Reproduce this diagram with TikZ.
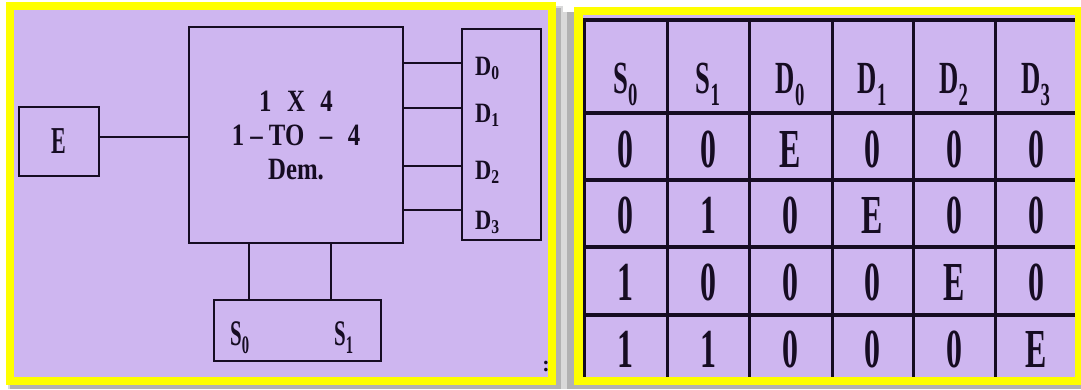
\documentclass[tikz,border=0pt]{standalone}
\usepackage{fontspec}
\setmainfont{Liberation Serif}
\newfontfamily\narrowfont[Ligatures=TeX, FakeStretch=0.58]{Liberation Serif}
\newfontfamily\boxfont[Ligatures=TeX, FakeStretch=0.8]{Liberation Serif}
\definecolor{lav}{RGB}{206,182,240}
\definecolor{ink}{RGB}{22,12,34}
\definecolor{frame}{RGB}{255,255,0}

\begin{document}
\begin{tikzpicture}[x=1pt, y=-1pt,
    blk/.style={draw=ink, line width=2.8pt, fill=lav, inner sep=0pt, text=ink},
    wire/.style={draw=ink, line width=2.8pt},
    grid/.style={draw=ink, line width=3pt},
    lbl/.style={text=ink, inner sep=0pt, anchor=base west, font=\boxfont\bfseries\fontsize{28}{28}\selectfont},
    cell/.style={text=ink, inner sep=0pt, anchor=base, font=\narrowfont\bfseries\fontsize{55}{55}\selectfont}]
  \useasboundingbox (0,0) rectangle (1081,389);
  \fill[white] (0,0) rectangle (1081,389);

  % Cornici
  \fill[black!15] (8,6) rectangle (563,389);
  \fill[black!30] (10,8) rectangle (561,389);
  \fill[frame] (6,2) rectangle (556,385);
  \fill[lav] (14,10) rectangle (548,377);
  \fill[black!15] (562,12) rectangle (1081,389);
  \fill[black!30] (567,12) rectangle (1081,389);
  \fill[frame] (574,7) rectangle (1081,385);
  \fill[lav] (583,15) rectangle (1075,377);

  % Demultiplexer
  \node[blk, minimum width=80pt, minimum height=69pt,
        font=\narrowfont\bfseries\fontsize{38}{38}\selectfont] (ebox) at (59,141.5) {E};
  \node[blk, minimum width=214pt, minimum height=216pt, align=center,
        font=\boxfont\bfseries\fontsize{31}{34}\selectfont] (demux) at (296,135)
        {1\enspace X\enspace 4\\ 1 -- TO\enspace--\enspace 4\\ Dem.};
  \node[blk, minimum width=79pt, minimum height=211pt] (outbox) at (501.5,134.5) {};
  \node[blk, minimum width=167pt, minimum height=61pt] (selbox) at (297.5,330.5) {};

  \draw[wire] (ebox.east |- 0,137) -- (demux.west |- 0,137);

  % Uscite
  \foreach \i/\b in {0/75,1/122,2/179,3/229}
    \node[lbl] (d\i) at (475,\b) {D\textsubscript{\i}};
  \foreach \i/\y in {0/63,1/108,2/166,3/210}
    \draw[wire] (demux.east |- 0,\y) -- (outbox.west |- 0,\y);

  % Selettori
  \node[lbl, font=\narrowfont\bfseries\fontsize{36}{36}\selectfont] (s0) at (230,345) {S\textsubscript{0}};
  \node[lbl, font=\narrowfont\bfseries\fontsize{36}{36}\selectfont] (s1) at (334,345) {S\textsubscript{1}};
  \draw[wire] (249,0 |- demux.south) -- (249,0 |- selbox.north);
  \draw[wire] (331,0 |- demux.south) -- (331,0 |- selbox.north);

  \node[text=ink, inner sep=0pt, font=\bfseries\fontsize{22}{22}\selectfont] (colon) at (546,366) {:};

  % Tabella di verita
  \begin{scope}
    \clip (583,15) rectangle (1075,377);
    \foreach \y in {20,113,180,247,315}
      \draw[grid, line width=4pt] (583,\y) -- (1075,\y);
    \foreach \x in {584,667,749,832,913,995,1077}
      \draw[grid] (\x,20) -- (\x,377);
  \end{scope}

  \foreach \l/\s/\x in {S/0/625.5, S/1/708, D/0/790.5, D/1/872.5, D/2/954, D/3/1036}
    \node[cell, font=\narrowfont\bfseries\fontsize{46}{46}\selectfont] (h\l\s) at (\x,93) {\l\textsubscript{\s}};

  \foreach \y/\pa/\pb/\pc/\pd/\pe/\pf [count=\row] in
      {167/0/0/E/0/0/0, 233/0/1/0/E/0/0, 300/1/0/0/0/E/0, 367/1/1/0/0/0/E}
    \foreach \v/\x [count=\k] in {\pa/625.5, \pb/708, \pc/790.5, \pd/872.5, \pe/954, \pf/1036}
      \node[cell] (c\row\k) at (\x,\y) {\v};
\end{tikzpicture}
\end{document}
